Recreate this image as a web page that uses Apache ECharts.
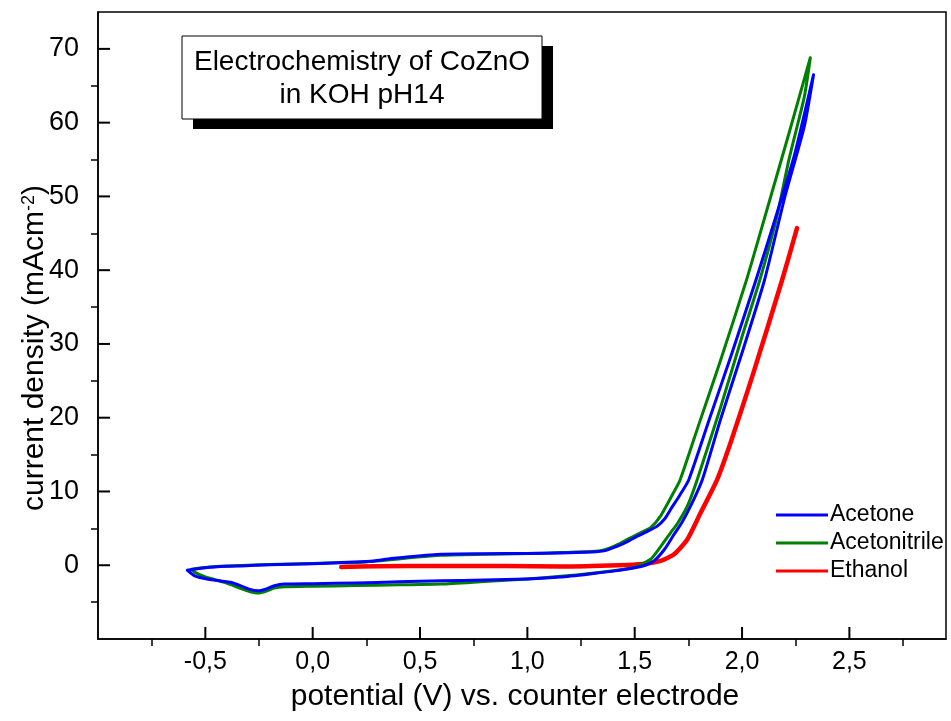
<!DOCTYPE html>
<html>
<head>
<meta charset="utf-8">
<script src="https://cdn.jsdelivr.net/npm/echarts@6/dist/echarts.min.js"></script>
<style>
html,body{margin:0;padding:0;background:#fff;}
#chart{width:951px;height:721px;}
</style>
</head>
<body>
<div id="chart"></div>
<script>
// ---- Data (potential V vs counter electrode, current density mA cm^-2) ----
const seriesNames = ['Acetone', 'Acetonitrile', 'Ethanol'];

const acetonePotential = [-0.584,-0.5,-0.4,-0.332,-0.2,0.0,0.133,0.25,0.286,0.365,0.45,0.598,0.8,1.0,1.155,1.3,1.357,1.42,1.466,1.512,1.56,1.605,1.64,1.667,1.71,1.752,1.85,1.95,2.064,2.16,2.245,2.333,
  2.29,2.2,2.104,2.0,1.9,1.815,1.76,1.72,1.683,1.64,1.59,1.55,1.5,1.4,1.3,1.155,1.0,0.8,0.598,0.4,0.2,0.0,-0.132,-0.178,-0.215,-0.254,-0.3,-0.378,-0.487,-0.55,-0.584];
const acetoneCurrent = [-0.67,-0.35,-0.15,-0.09,0.05,0.2,0.36,0.5,0.58,0.9,1.15,1.48,1.55,1.6,1.65,1.8,1.95,2.6,3.2,3.95,4.6,5.3,6.3,7.56,9.5,11.6,20.0,28.5,38.6,47.5,55.7,66.5,
  59.5,50.0,38.6,28.8,19.8,11.6,8.0,5.8,4.18,2.2,0.58,0.0,-0.35,-0.8,-1.15,-1.6,-1.85,-2.0,-2.12,-2.25,-2.4,-2.5,-2.56,-2.79,-3.2,-3.47,-3.2,-2.33,-1.89,-1.44,-0.67];

const acetonitrilePotential = [-0.564,-0.5,-0.4,-0.2,0.0,0.133,0.25,0.35,0.45,0.598,0.8,1.0,1.155,1.3,1.357,1.42,1.466,1.52,1.574,1.62,1.68,1.712,1.8,1.9,2.02,2.12,2.22,2.318,
  2.29,2.22,2.16,2.082,2.0,1.9,1.791,1.745,1.7,1.667,1.62,1.574,1.497,1.4,1.3,1.155,1.0,0.8,0.598,0.4,0.2,0.0,-0.132,-0.18,-0.215,-0.254,-0.3,-0.411,-0.5,-0.55,-0.564];
const acetonitrileCurrent = [-0.54,-0.3,-0.1,0.1,0.25,0.33,0.45,0.7,1.0,1.35,1.5,1.58,1.71,1.85,2.07,2.8,3.5,4.3,5.1,6.65,9.8,11.6,19.2,27.8,38.6,48.6,58.7,68.8,
  63.5,55.2,47.0,38.6,31.0,21.4,11.6,8.0,5.7,4.4,2.5,0.81,-0.31,-0.75,-1.1,-1.5,-1.85,-2.2,-2.56,-2.65,-2.75,-2.85,-2.93,-3.1,-3.5,-3.78,-3.5,-2.33,-1.6,-0.94,-0.54];

const ethanolPotential = [0.133,0.3,0.6,0.9,1.155,1.3,1.466,1.55,1.62,1.683,1.745,1.807,1.884,1.95,2.05,2.186,2.256];
const ethanolCurrent = [-0.23,-0.15,-0.1,-0.12,-0.18,-0.1,0.04,0.2,0.58,1.48,3.5,7.1,11.6,16.9,25.8,38.6,45.7];

const potentialMajorTicks = [-0.5,0.0,0.5,1.0,1.5,2.0,2.5];
const potentialMinorTicks = [-0.75,-0.25,0.25,0.75,1.25,1.75,2.25,2.75];
const currentMajorTicks = [0,10,20,30,40,50,60,70];
const currentMinorTicks = [-5,5,15,25,35,45,55,65];

const titleLines = ['Electrochemistry of CoZnO', 'in KOH pH14'];
const xTitle = 'potential (V) vs. counter electrode';
const yTitle = 'current density (mAcm{sup|-2})';

// ---- Build ----
function zip(xs, ys){ return xs.map((x,i)=>[x, ys[i]]); }
const colors = ['#0000ff', '#008000', '#ff0000'];
const widths = [3, 3, 4.5];
const dataSets = [zip(acetonePotential, acetoneCurrent), zip(acetonitrilePotential, acetonitrileCurrent), zip(ethanolPotential, ethanolCurrent)];

const X_MIN = -1.0, X_MAX = 2.95, Y_MIN = -10, Y_MAX = 75;
const FONT = '"Liberation Sans", Arial, sans-serif';
const MAJOR_LEN = 12, TICK_W = 2;
const W = 951, H = 721;
const GRID = {left: 98, right: 5, top: 12, bottom: 82};

// axis-decoration helpers (same linear mapping the value axes use)
const gx = v => GRID.left + (v - X_MIN) / (X_MAX - X_MIN) * (W - GRID.left - GRID.right);
const gy = v => (H - GRID.bottom) - (v - Y_MIN) / (Y_MAX - Y_MIN) * (H - GRID.top - GRID.bottom);

// inward major ticks drawn as thin filled rectangles
const tickGraphics = [];
potentialMajorTicks.forEach(v => {
  const x = gx(v), y = H - GRID.bottom;
  tickGraphics.push({type: 'rect', silent: true, shape: {x: x - TICK_W / 2, y: y - MAJOR_LEN, width: TICK_W, height: MAJOR_LEN},
    style: {fill: '#000'}, z: 30, zlevel: 0});
});
currentMajorTicks.forEach(v => {
  const x = GRID.left, y = gy(v);
  tickGraphics.push({type: 'rect', silent: true, shape: {x: x, y: y - TICK_W / 2, width: MAJOR_LEN, height: TICK_W},
    style: {fill: '#000'}, z: 30, zlevel: 0});
});

const baseGraphics = [
  {type: 'rect', shape: {x: 193, y: 46, width: 360, height: 83}, style: {fill: '#000'}, z: 10},
  {type: 'rect', shape: {x: 182, y: 36, width: 360, height: 83}, style: {fill: '#fff', stroke: '#000', lineWidth: 1}, z: 11},
  {type: 'text', x: 362, y: 62, style: {text: titleLines[0], font: '28px ' + FONT, fill: '#000', align: 'center', verticalAlign: 'middle'}, z: 12},
  {type: 'text', x: 362, y: 95, style: {text: titleLines[1], font: '28px ' + FONT, fill: '#000', align: 'center', verticalAlign: 'middle'}, z: 12},
  {type: 'text', x: 515, y: 697, style: {text: xTitle, font: '30px ' + FONT, fill: '#000', align: 'center', verticalAlign: 'middle'}, z: 12},
  {type: 'text', x: 35, y: 348, rotation: Math.PI / 2,
    style: {text: yTitle, fontFamily: FONT, fontSize: 30, fill: '#000', align: 'center', verticalAlign: 'middle',
      rich: {sup: {fontFamily: FONT, fontSize: 18, fill: '#000', verticalAlign: 'top', padding: [0,0,12,0]}}}, z: 12}
];

const chart = echarts.init(document.getElementById('chart'), null, {renderer:'canvas'});
const option = {
  animation: false,
  backgroundColor: '#fff',
  grid: Object.assign({show: true, borderColor: '#000', borderWidth: 1.5, backgroundColor: 'transparent'}, GRID),
  legend: {
    data: seriesNames,
    orient: 'vertical',
    left: 771, top: 498,
    icon: 'rect',
    itemWidth: 52, itemHeight: 3, itemGap: 4,
    textStyle: {fontFamily: FONT, fontSize: 23, color: '#000', lineHeight: 24, padding: [0,0,0,-3]}
  },
  xAxis: {
    type: 'value', min: X_MIN, max: X_MAX, position: 'bottom',
    axisLine: {show: true, onZero: false, lineStyle: {color: '#000', width: 1.5}},
    axisTick: {show: true, inside: false, length: 7, lineStyle: {color: '#000', width: 1.5}, customValues: potentialMinorTicks},
    axisLabel: {show: true, margin: 11, fontFamily: FONT, fontSize: 25, color: '#000', customValues: potentialMajorTicks,
      formatter: v => v.toFixed(1).replace('.', ',')},
    splitLine: {show: false}
  },
  yAxis: {
    type: 'value', min: Y_MIN, max: Y_MAX, position: 'left',
    axisLine: {show: true, onZero: false, lineStyle: {color: '#000', width: 1.5}},
    axisTick: {show: true, inside: false, length: 7, lineStyle: {color: '#000', width: 1.5}, customValues: currentMinorTicks},
    axisLabel: {show: true, margin: 19, fontFamily: FONT, fontSize: 27, color: '#000', customValues: currentMajorTicks},
    splitLine: {show: false}
  },
  series: seriesNames.map((n, i) => ({
    name: n, type: 'line', data: dataSets[i],
    showSymbol: false, symbol: 'none', smooth: 0.2, clip: true,
    lineStyle: {color: colors[i], width: widths[i], join: 'round', cap: 'round'},
    itemStyle: {color: colors[i]},
    z: 3 - i
  })),
  graphic: {elements: baseGraphics.concat(tickGraphics)}
};
chart.setOption(option);
</script>
</body>
</html>
